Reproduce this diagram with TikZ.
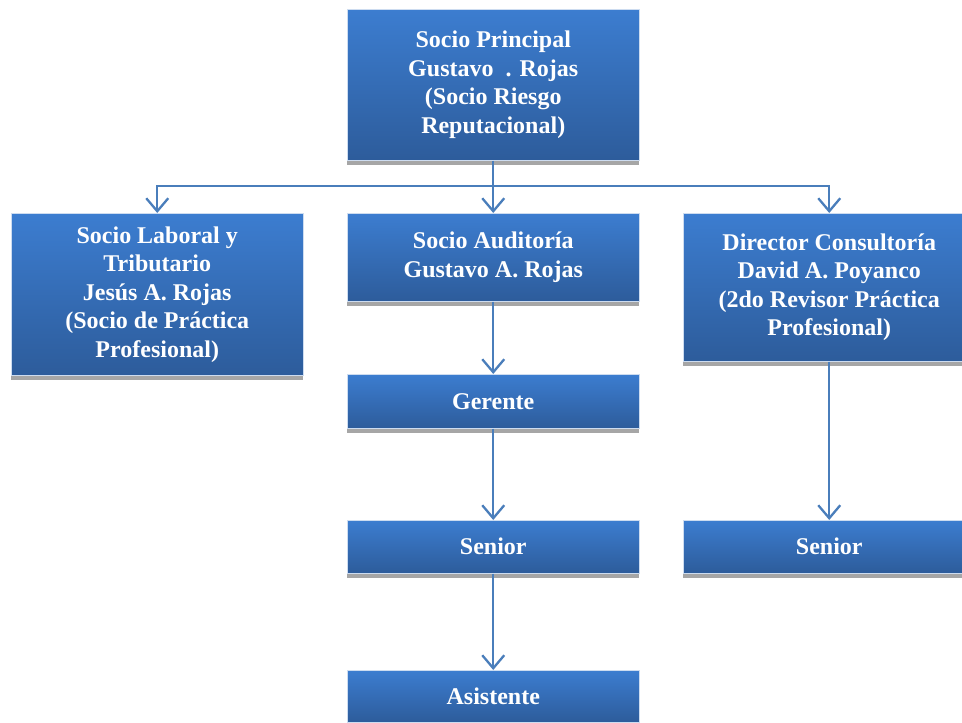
\documentclass[tikz,border=0pt]{standalone}
\usepackage{fontspec}
\setmainfont{Liberation Serif}
\usetikzlibrary{arrows.meta,shadows}
\definecolor{btop}{RGB}{60,125,208}
\definecolor{bbot}{RGB}{45,92,155}
\definecolor{lineblue}{RGB}{74,126,187}
\definecolor{shgray}{RGB}{166,166,166}
\definecolor{bedge}{RGB}{205,220,240}
\begin{document}
\begin{tikzpicture}[x=1pt,y=-1pt,
  box/.style={rectangle, anchor=north west, minimum width=292pt, inner sep=0pt,
    top color=btop, bottom color=bbot, draw=bedge, line width=0.5pt,
    text=white, font=\fontsize{24}{28.5}\selectfont\bfseries, align=center,
    drop shadow={shadow xshift=0pt, shadow yshift=-5pt, fill=shgray, opacity=1}},
  conn/.style={draw=lineblue, line width=2.3pt},
  arr/.style={conn, -{Straight Barb[length=13pt,width=22pt]}}]
\useasboundingbox[fill=white] (0,0) rectangle (962,723);
\node[box, minimum height=151pt] (top) at (347,9) {Socio Principal\\Gustavo\ \ . Rojas\\(Socio Riesgo\\Reputacional)};
\node[box, minimum height=162pt] (left) at (11,213) {Socio Laboral y\\Tributario\\Jesús A. Rojas\\(Socio de Práctica\\Profesional)};
\node[box, minimum height=88pt] (mid) at (347,213) {Socio Auditoría\\Gustavo A. Rojas};
\node[box, minimum height=148pt] (right) at (683,213) {Director Consultoría\\David A. Poyanco\\(2do Revisor Práctica\\Profesional)};
\node[box, minimum height=54pt] (ger) at (347,374) {Gerente};
\node[box, minimum height=53pt] (sen1) at (347,520) {Senior};
\node[box, minimum height=52pt] (asi) at (347,670) {Asistente};
\node[box, minimum height=53pt] (sen2) at (683,520) {Senior};
\coordinate (j) at (top.south |- 0,186);
\draw[conn] (top.south) -- (j);
\draw[arr] (j) -| (left.north);
\draw[arr] (j) -| (right.north);
\draw[arr] (j) -- (mid.north);
\draw[arr] (mid.south) -- (ger.north);
\draw[arr] (ger.south) -- (sen1.north);
\draw[arr] (sen1.south) -- (asi.north);
\draw[arr] (right.south) -- (sen2.north);
\end{tikzpicture}
\end{document}
